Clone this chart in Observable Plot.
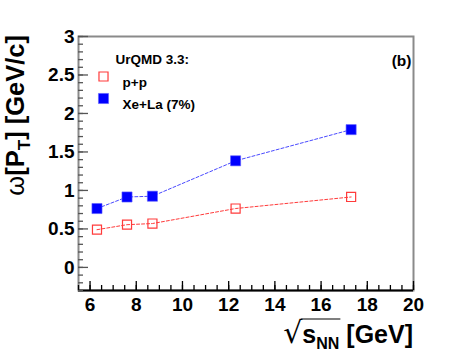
<!DOCTYPE html>
<html><head><meta charset="utf-8">
<script src="https://cdn.jsdelivr.net/npm/d3@7"></script>
<script src="https://cdn.jsdelivr.net/npm/@observablehq/plot@0.6"></script>
<style>body{margin:0;background:#fff}</style>
</head><body><div id="chart"></div>
<script>
const energies = [6.3, 7.6, 8.7, 12.3, 17.3];
const ppValues = [0.49, 0.555, 0.57, 0.765, 0.915];
const xelaValues = [0.765, 0.915, 0.925, 1.385, 1.79];
const xMajorTicks = [6, 8, 10, 12, 14, 16, 18, 20];
const yMajorTicks = [0, 0.5, 1, 1.5, 2, 2.5, 3];
const seriesNames = ["p+p", "Xe+La (7%)"];
const legendTitle = "UrQMD 3.3:";
const panelLabel = "(b)";

const pp = energies.map((x, i) => ({x, y: ppValues[i]}));
const xela = energies.map((x, i) => ({x, y: xelaValues[i]}));
const xMinor = d3.range(11, 41).map(i => i / 2);
const yMinor = d3.range(-3, 31).map(i => i / 10);

const font = "'Liberation Sans', Arial, Helvetica, sans-serif";
const red = "#ff3b3b", blue = "#0000ff";

const plot = Plot.plot({
  width: 459, height: 363,
  marginLeft: 78, marginRight: 46, marginTop: 36, marginBottom: 73,
  style: {fontFamily: font, background: "white", overflow: "visible"},
  x: {domain: [5.5, 20]},
  y: {domain: [-0.3, 3]},
  marks: [
    Plot.frame({stroke: "#8a8a8a", strokeWidth: 2}),
    Plot.ruleY([-0.3], {stroke: "#000", strokeWidth: 2}),
    Plot.axisX(xMinor, {tickSize: -5, tickFormat: () => "", label: null, stroke: "#000", strokeWidth: 1.3}),
    Plot.axisX(xMajorTicks, {tickSize: -9, tickFormat: () => "", label: null, stroke: "#000", strokeWidth: 1.3}),
    Plot.axisX(xMajorTicks, {tickSize: 0, tickPadding: 7, fontSize: 19, fontWeight: "bold", label: null, fill: "#000", tickFormat: d => String(d)}),
    Plot.axisY(yMinor, {tickSize: -5, tickFormat: () => "", label: null, stroke: "#555", strokeWidth: 1.3}),
    Plot.axisY(yMajorTicks, {tickSize: -10, tickFormat: () => "", label: null, stroke: "#555", strokeWidth: 1.3}),
    Plot.axisY(yMajorTicks, {tickSize: 0, tickPadding: 4, fontSize: 19, fontWeight: "bold", label: null, fill: "#000", tickFormat: d => String(d)}),
    Plot.line(pp, {x: "x", y: "y", stroke: red, strokeWidth: 1, strokeDasharray: "3,2"}),
    Plot.line(xela, {x: "x", y: "y", stroke: "#4a4aff", strokeWidth: 1, strokeDasharray: "3,2"}),
    Plot.dot(pp, {x: "x", y: "y", symbol: "square", r: 5.1, stroke: red, fill: "none", strokeWidth: 1.2}),
    Plot.dot(xela, {x: "x", y: "y", symbol: "square", r: 5.7, fill: blue, stroke: "#6060ff", strokeWidth: 0.6}),
    // legend
    Plot.text([legendTitle], {frameAnchor: "top-left", dx: 37, dy: 18, text: d => d, textAnchor: "start", fontSize: 13.5, fontWeight: "bold", fill: "#000"}),
    Plot.dot([0], {frameAnchor: "top-left", dx: 25, dy: 40, symbol: "square", r: 5.1, stroke: red, fill: "none", strokeWidth: 1.2}),
    Plot.dot([0], {frameAnchor: "top-left", dx: 25, dy: 62, symbol: "square", r: 5.7, fill: blue, stroke: "#6060ff", strokeWidth: 0.6}),
    Plot.text([seriesNames[0]], {frameAnchor: "top-left", dx: 44, dy: 41, text: d => d, textAnchor: "start", fontSize: 13.5, fontWeight: "bold", fill: "#000"}),
    Plot.text([seriesNames[1]], {frameAnchor: "top-left", dx: 44, dy: 63, text: d => d, textAnchor: "start", fontSize: 13.5, fontWeight: "bold", fill: "#000"}),
    Plot.text([panelLabel], {frameAnchor: "top-right", dx: -2, dy: 18, text: d => d, textAnchor: "end", fontSize: 15.5, fontWeight: "bold", fill: "#000"})
  ]
});
document.getElementById("chart").appendChild(plot);

const svg = d3.select(plot);
// Y axis title
const yt = svg.append("text")
  .attr("transform", "translate(24,35) rotate(-90)")
  .attr("text-anchor", "end")
  .attr("font-family", font).attr("font-size", 25.5).attr("font-weight", "bold").attr("fill", "#000");
yt.append("tspan").attr("font-weight", "normal").text("ω");
yt.append("tspan").text("[P");
yt.append("tspan").attr("font-size", 17).attr("dy", 6).text("T");
yt.append("tspan").attr("dy", -6).text("] [GeV/c]");

// X axis title
const xt = svg.append("text")
  .attr("x", 413).attr("y", 343)
  .attr("text-anchor", "end")
  .attr("font-family", font).attr("font-size", 25).attr("font-weight", "bold").attr("fill", "#000");
xt.append("tspan").attr("font-weight", "normal").attr("font-size", 30).attr("font-family", "'DejaVu Sans', sans-serif").text("√");
xt.append("tspan").text("s");
xt.append("tspan").attr("font-size", 16).attr("dy", 6).text("NN");
xt.append("tspan").attr("dy", -6).text(" [GeV]");
try {
  const n = xt.node();
  const ext = n.getExtentOfChar(0);
  const x0 = ext.x + ext.width - 1.2;
  const x1 = n.getEndPositionOfChar(3).x + 1;
  const yTop = ext.y + 4;
  svg.append("line").attr("x1", x0).attr("x2", x1).attr("y1", yTop).attr("y2", yTop)
    .attr("stroke", "#000").attr("stroke-width", 1.2);
} catch (e) {}
</script>
</body></html>
